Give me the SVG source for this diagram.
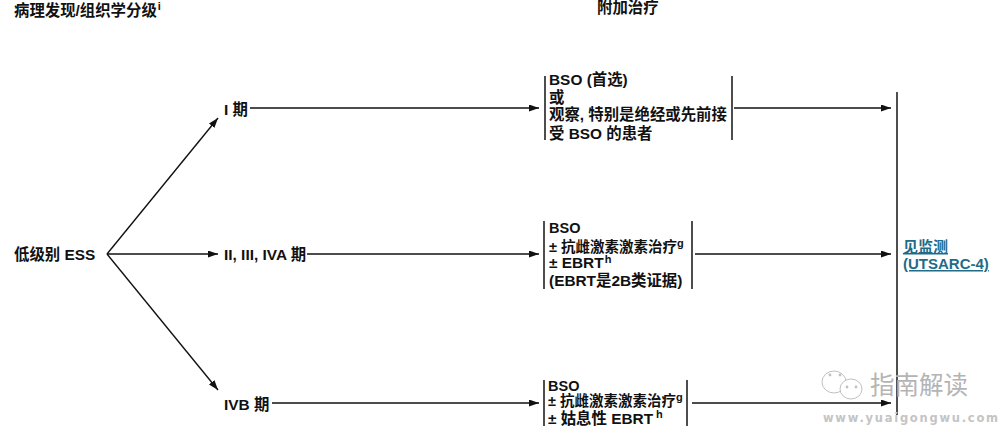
<svg xmlns="http://www.w3.org/2000/svg" width="1001" height="430" viewBox="0 0 1001 430">
<style>
text{font-family:"Liberation Sans","Noto Sans CJK SC",sans-serif;font-weight:700;font-size:15.4px;fill:#111}
.sup{font-size:11px}
.nar{font-size:14.5px}
.ln{stroke:#111;stroke-width:1.4;fill:none}
.bar{stroke:#222;stroke-width:1.6;fill:none}
.link{fill:#1f6b88;text-decoration:underline;font-size:15px}
.wm{fill:#b4b4b4;font-weight:400;font-size:24.5px}
.wu{fill:#c4c4c4;font-size:11.5px;letter-spacing:1.75px;font-family:"DejaVu Sans",sans-serif}
.ic{fill:#fff;stroke:#c0c0c0;stroke-width:1}
</style>
<defs>
<marker id="a" markerUnits="userSpaceOnUse" markerWidth="11" markerHeight="8" refX="10" refY="3.5" orient="auto"><path d="M0 0L10 3.5L0 7Z" fill="#111"/></marker>
</defs>
<g id="connectors">
<path class="ln" d="M107 254L218 118" marker-end="url(#a)"/>
<path class="ln" d="M107 254H218" marker-end="url(#a)"/>
<path class="ln" d="M107 254L218 390" marker-end="url(#a)"/>
<path class="ln" d="M250 108H539" marker-end="url(#a)"/>
<path class="ln" d="M307 254H539" marker-end="url(#a)"/>
<path class="ln" d="M272 403H539" marker-end="url(#a)"/>
<path class="ln" d="M734 108H891" marker-end="url(#a)"/>
<path class="ln" d="M695 254H891" marker-end="url(#a)"/>
<path class="ln" d="M692 403H891" marker-end="url(#a)"/>
<path class="bar" d="M897 92V415"/>
</g>
<g id="header-left"><text x="14" y="16">病理发现/组织学分级<tspan class="sup" dx="1" dy="-6">i</tspan></text></g>
<g id="header-right"><text x="597" y="13">附加治疗</text></g>
<g id="n-ess"><text x="14" y="260">低级别 ESS</text></g>
<g id="n-s1"><text x="224" y="115">I 期</text></g>
<g id="n-s2"><text x="224" y="260">II, III, IVA 期</text></g>
<g id="n-s3"><text x="224" y="410">IVB 期</text></g>
<g id="box-1">
<path class="bar" d="M545 76V140M732 76V140"/>
<text x="549" y="85">BSO (首选)</text>
<text x="549" y="103">或</text>
<text x="549" y="120">观察, 特别是绝经或先前接</text>
<text x="549" y="139">受 BSO 的患者</text>
</g>
<g id="box-2">
<path class="bar" d="M544 221V289M692 221V289"/>
<text class="nar" x="549" y="233">BSO</text>
<text class="nar" x="549" y="252">± 抗雌激素激素治疗<tspan class="sup" dy="-5">g</tspan></text>
<text x="549" y="268">± EBRT<tspan class="sup" dx="1" dy="-5">h</tspan></text>
<text x="549" y="286">(EBRT是2B类证据)</text>
</g>
<g id="box-3">
<path class="bar" d="M544 380V426M687 380V426"/>
<text class="nar" x="548" y="391">BSO</text>
<text class="nar" x="548" y="406">± 抗雌激素激素治疗<tspan class="sup" dy="-5">g</tspan></text>
<text x="548" y="424">± 姑息性 EBRT<tspan class="sup" dx="3" dy="-6">h</tspan></text>
</g>
<g id="n-follow">
<text class="link" x="903" y="252">见监测</text>
<text class="link" x="903" y="269">(UTSARC-4)</text>
</g>
<g id="watermark">
<ellipse class="ic" cx="834" cy="382" rx="12" ry="11"/>
<ellipse class="ic" cx="851" cy="389" rx="11" ry="10"/>
<circle cx="830" cy="375" r="1.4" fill="#c0c0c0"/><circle cx="840" cy="375" r="1.4" fill="#c0c0c0"/>
<circle cx="847" cy="387" r="1.4" fill="#c0c0c0"/><circle cx="856" cy="387" r="1.4" fill="#c0c0c0"/>
<text class="wm" x="870" y="394">指南解读</text>
<text class="wu" x="823" y="422">www.yuaigongwu.com</text>
</g>
</svg>
